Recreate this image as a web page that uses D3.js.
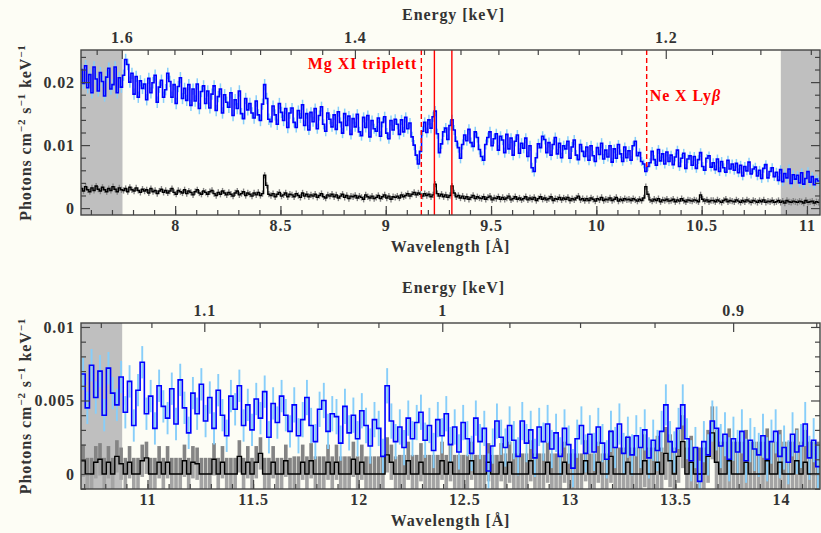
<!DOCTYPE html>
<html>
<head>
<meta charset="utf-8">
<script src="https://cdn.jsdelivr.net/npm/d3@7"></script>
<style>
body { margin: 0; background: #fdfdf5; }
text { font-family: "Liberation Serif", "DejaVu Serif", serif; font-weight: bold; fill: #333; font-size: 16px; letter-spacing: 0.9px; }
</style>
</head>
<body>
<svg id="chart" width="821" height="533"></svg>
<script>
// all fluxes below are in units of 1e-4 photons cm^-2 s^-1 keV^-1
const UNIT = 1e-4;
const HC = 12.39842; // keV * A

// upper panel, 0.01 A bins starting at 7.55 A
const topStart = 7.55;
const topBin = 0.01;
const topBlue = [
    220, 198, 226, 191, 212, 183, 224, 205, 186, 215,
    201, 178, 208, 222, 189, 196, 224, 183, 207, 192,
    211, 236, 228, 200, 214, 181, 209, 176, 202, 190,
    197, 172, 206, 183, 199, 211, 168, 192, 203, 176,
    188, 214, 201, 176, 196, 166, 193, 207, 174, 190,
    171, 196, 163, 189, 170, 197, 158, 185, 194, 166,
    186, 159, 181, 194, 155, 177, 189, 151, 180, 168,
    160, 183, 147, 172, 158, 186, 150, 142, 174, 156,
    166, 151, 143, 170, 148, 139, 165, 196, 174, 141,
    137, 162, 148, 133, 166, 152, 139, 158, 128, 151,
    159, 136, 128, 155, 143, 164, 131, 150, 124, 152,
    137, 158, 126, 147, 161, 133, 122, 151, 141, 129,
    148, 125, 153, 136, 119, 150, 131, 146, 117, 142,
    129, 149, 121, 115, 144, 128, 147, 113, 139, 126,
    122, 143, 114, 136, 145, 119, 110, 139, 124, 141,
    133, 117, 140, 121, 144, 126, 135, 113, 100, 84,
    70, 90, 122, 136, 120, 140, 127, 145, 154, 118,
    88, 102, 121, 127, 109, 131, 140, 124, 106, 96,
    79, 101, 116, 107, 125, 104, 98, 121, 112, 93,
    82, 76, 101, 112, 121, 99, 110, 118, 92, 114,
    108, 88, 117, 94, 111, 84, 106, 116, 87, 103,
    95, 111, 82, 99, 64, 58, 80, 102, 96, 114,
    109, 88, 104, 84, 101, 112, 86, 103, 80, 99,
    94, 106, 79, 97, 108, 84, 77, 101, 90, 82,
    97, 76, 99, 83, 74, 96, 85, 103, 78, 92,
    81, 99, 73, 94, 79, 101, 86, 74, 97, 80,
    91, 76, 99, 106, 83, 88, 74, 70, 58, 66,
    72, 90, 77, 68, 93, 75, 86, 70, 89, 74,
    84, 69, 81, 92, 66, 79, 87, 63, 78, 83,
    68, 82, 63, 77, 88, 66, 60, 79, 83, 65,
    72, 61, 78, 58, 74, 64, 57, 76, 62, 70,
    60, 71, 56, 68, 51, 66, 59, 73, 54, 62,
    65, 51, 60, 47, 63, 69, 48, 58, 64, 50,
    57, 44, 61, 42, 55, 48, 62, 39, 53, 46,
    52, 40, 56, 38, 47, 58, 41, 50, 37, 46,
    43
];
const topBlack = [
    31, 27, 34, 29, 26, 32, 28, 35, 30, 27,
    33, 29, 26, 31, 28, 34, 30, 26, 32, 29,
    28, 31, 26, 33, 29, 27, 32, 28, 25, 30,
    27, 29, 24, 31, 26, 28, 23, 27, 30, 25,
    28, 24, 27, 31, 25, 22, 28, 26, 24, 29,
    23, 27, 25, 21, 26, 29, 24, 22, 27, 25,
    22, 26, 28, 23, 20, 25, 22, 27, 24, 21,
    25, 22, 19, 24, 27, 21, 23, 26, 20, 24,
    22, 19, 24, 21, 25, 20, 23, 52, 36, 22,
    20, 23, 18, 22, 25, 19, 21, 24, 18, 22,
    21, 18, 23, 20, 17, 24, 19, 22, 18, 21,
    19, 22, 17, 20, 23, 18, 16, 21, 19, 22,
    18, 21, 16, 19, 22, 17, 20, 15, 19, 18,
    20, 16, 19, 17, 14, 21, 18, 16, 19, 15,
    17, 20, 15, 18, 21, 16, 19, 14, 18, 17,
    19, 16, 21, 18, 20, 23, 19, 22, 25, 21,
    24, 22, 19, 23, 20, 22, 18, 21, 38, 23,
    19, 22, 18, 21, 17, 20, 35, 24, 18, 20,
    16, 19, 15, 18, 14, 17, 20, 15, 18, 16,
    15, 18, 14, 17, 19, 13, 16, 15, 18, 14,
    17, 14, 16, 19, 13, 15, 18, 14, 16, 13,
    15, 18, 13, 16, 14, 17, 12, 15, 18, 14,
    16, 13, 15, 18, 12, 15, 14, 17, 13, 16,
    14, 17, 12, 15, 13, 16, 19, 13, 15, 12,
    15, 12, 16, 14, 11, 15, 13, 17, 12, 14,
    13, 16, 12, 14, 17, 11, 14, 12, 15, 13,
    14, 12, 15, 13, 11, 14, 12, 16, 34, 22,
    13, 11, 14, 12, 15, 10, 13, 12, 14, 11,
    12, 14, 10, 13, 11, 15, 12, 10, 13, 12,
    11, 13, 12, 10, 21, 14, 11, 13, 10, 12,
    12, 10, 13, 11, 9, 12, 14, 10, 12, 11,
    10, 13, 11, 9, 12, 10, 13, 11, 9, 12,
    11, 9, 12, 10, 13, 9, 11, 10, 12, 9,
    10, 12, 9, 11, 8, 12, 10, 9, 11, 10,
    9, 11, 10, 8, 12, 9, 10, 11, 8, 10,
    9
];
// 1-sigma errors, one value per 0.5 A
const errStep = 0.5;
const topBlueErr = [9, 9, 8, 8, 8, 7, 7, 7];
const topBlackErr = [5, 5, 5, 5, 5, 5, 5, 5];

// lower panel, 0.02 A bins starting at 10.685 A
const botStart = 10.685;
const botBin = 0.02;
const botBlue = [
    68, 45, 74, 52, 70, 40, 72, 55, 47, 66,
    42, 63, 33, 57, 76, 41, 53, 31, 60, 46,
    38, 58, 34, 64, 45, 28, 55, 41, 61, 36,
    52, 31, 57, 40, 26, 53, 44, 60, 33, 47,
    30, 51, 38, 56, 25, 48, 35, 53, 40, 29,
    47, 26, 37, 52, 33, 22, 44, 50, 29, 41,
    39, 21, 46, 28, 40, 24, 43, 33, 19, 37,
    31, 12, 60, 36, 22, 32, 18, 38, 24, 35,
    42, 23, 33, 16, 37, 26, 41, 20, 32, 15,
    35, 24, 14, 38, 22, 31, 2, 19, 36, 25,
    18, 33, 23, 12, 36, 21, 30, 11, 32, 22,
    34, 17, 28, 12, 31, 20, 4, 24, 33, 14,
    27, 15, 32, 21, 10, 29, 18, 34, 14, 25,
    13, 26, 18, 30, 11, 23, 16, 29, 47, 22,
    15, 31, 47, 24, 9, 18, -5, 22, 13, 36,
    31, 19, 27, 10, 24, 15, 29, 9, 23, 17,
    13, 26, 10, 22, 29, 12, 18, 8, 27, 15,
    19, 34, 11, 23, 5
];
const botBlack = [
    9, 0, 0, 8, 10, 0, 8, 0, 12, 7,
    0, 8, 0, 0, 9, 11, 0, 0, 8, 0,
    8, 0, 0, 0, 9, 0, 8, 7, 0, 0,
    0, 10, 0, 8, 0, 0, 0, 12, 0, 8,
    0, 8, 14, 0, 0, 8, 0, 0, 9, 0,
    0, 0, 8, 0, 9, 0, 0, 0, 8, 0,
    8, 0, 0, 0, 10, 0, 8, 0, 0, 0,
    0, 0, 13, 8, 0, 0, 0, 9, 0, 0,
    8, 0, 0, 0, 0, 9, 0, 8, 0, 0,
    0, 0, 9, 0, 0, 0, 8, 0, 0, 8,
    0, 8, 0, 0, 0, 0, 9, 0, 0, 0,
    8, 0, 0, 0, 8, 0, 0, 0, 0, 9,
    0, 0, 8, 0, 0, 12, 0, 0, 0, 8,
    0, 0, 0, 9, 0, 0, 8, 0, 14, 9,
    0, 12, 22, 0, 8, 0, 0, 0, 12, 28,
    8, 0, 0, 9, 0, 0, 0, 8, 0, 0,
    0, 0, 9, 0, 0, 8, 0, 0, 0, 9,
    0, 8, 0, 0, 0
];
const botBlueErr = [11, 11, 12, 12, 13, 14, 15];
const botBlackErr = [11, 11, 12, 13, 14, 18, 22];

// line identifications (A)
const lineWl = [9.169, 9.231, 9.314, 10.239];
const lineDashed = [true, false, false, true];
const lineBottom = [0, 0, 0, 0.0065];   // flux where the marker stops

const svg = d3.select("#chart");
const left = 81, right = 820;

function makeBins(start, step, vals, errs) {
    return vals.map((v, i) => {
        let k = Math.min(errs.length - 1, Math.floor(i * step / errStep + 1e-9));
        return {x0: start + i * step, x1: start + (i + 1) * step, v: v * UNIT, e: errs[k] * UNIT};
    });
}

function drawErrors(g, x, y, bins, color, width, asBars) {
    if (asBars) {
        // lower half lighter, upper half darker, as in the original
        const bars = g.append("g");
        bars.selectAll("rect.lo")
            .data(bins)
            .join("rect")
            .attr("x", d => x(d.x0) + 0.3)
            .attr("width", d => x(d.x1) - x(d.x0) - 0.6)
            .attr("y", d => y(d.v))
            .attr("height", d => y(d.v - d.e) - y(d.v))
            .attr("fill", "#a4a4a4");
        bars.selectAll("rect.hi")
            .data(bins)
            .join("rect")
            .attr("x", d => x(d.x0) + 0.3)
            .attr("width", d => x(d.x1) - x(d.x0) - 0.6)
            .attr("y", d => y(d.v + d.e))
            .attr("height", d => y(d.v) - y(d.v + d.e))
            .attr("fill", color);
        return;
    }
    g.append("g")
        .selectAll("line")
        .data(bins)
        .join("line")
        .attr("x1", d => x((d.x0 + d.x1) / 2))
        .attr("x2", d => x((d.x0 + d.x1) / 2))
        .attr("y1", d => y(d.v - d.e))
        .attr("y2", d => y(d.v + d.e))
        .attr("stroke", color)
        .attr("stroke-width", width);
}

function drawStep(g, x, y, bins, color, width) {
    let pts = bins.map(d => [d.x0, d.v]);
    pts.push([bins[bins.length - 1].x1, bins[bins.length - 1].v]);
    g.append("path")
        .attr("d", d3.line().x(d => x(d[0])).y(d => y(d[1])).curve(d3.curveStepAfter)(pts))
        .attr("fill", "none")
        .attr("stroke", color)
        .attr("stroke-width", width);
}

function panel(opt) {
    const x = d3.scaleLinear().domain(opt.xDomain).range([left, right]);
    const y = d3.scaleLinear().domain(opt.yDomain).range([opt.bottom, opt.top]);
    const h = opt.bottom - opt.top;

    svg.append("clipPath").attr("id", "clip" + opt.id)
        .append("rect").attr("x", left).attr("y", opt.top).attr("width", right - left).attr("height", h);
    const plot = svg.append("g").attr("clip-path", `url(#clip${opt.id})`);

    // ignored ranges
    plot.selectAll("rect.ign")
        .data(opt.ignored)
        .join("rect")
        .attr("x", d => x(d[0]))
        .attr("width", d => x(d[1]) - x(d[0]))
        .attr("y", opt.top)
        .attr("height", h)
        .attr("fill", "#bfbfbf");

    const blackBins = makeBins(opt.start, opt.step, opt.black, opt.blackErr);
    const blueBins = makeBins(opt.start, opt.step, opt.blue, opt.blueErr);
    drawErrors(plot, x, y, blackBins, "#848484", 1.4, opt.blackBars);
    drawErrors(plot, x, y, blueBins, "#87cefa", opt.step > 0.015 ? 1.9 : 1.5, false);
    drawStep(plot, x, y, blackBins, "#000", 1.4);
    drawStep(plot, x, y, blueBins, "#0000ff", 1.6);

    // line markers
    if (opt.lines) {
        plot.selectAll("line.mark")
            .data(lineWl)
            .join("line")
            .attr("x1", d => x(d)).attr("x2", d => x(d))
            .attr("y1", opt.top)
            .attr("y2", (d, i) => lineBottom[i] ? y(lineBottom[i]) : opt.bottom)
            .attr("stroke", "#ff0000")
            .attr("stroke-width", 1.4)
            .attr("stroke-dasharray", (d, i) => lineDashed[i] ? "5,3" : null);
        svg.append("text").attr("x", x(lineWl[0]) - 4).attr("y", 69)
            .attr("text-anchor", "end").style("fill", "#ff0000").text("Mg XI triplett");
        const ne = svg.append("text").attr("x", x(lineWl[3]) + 3).attr("y", 101).style("fill", "#ff0000");
        ne.append("tspan").text("Ne X Ly");
        ne.append("tspan").style("font-style", "italic").text("β");
    }

    // wavelength axis (bottom), ticks pointing inward
    const minor = d3.range(Math.ceil(opt.xDomain[0] * 10), Math.floor(opt.xDomain[1] * 10) + 1).map(d => d / 10);
    const major = minor.filter(d => Math.abs(d * 2 - Math.round(d * 2)) < 1e-6);
    svg.append("g").attr("class", "ax").attr("transform", `translate(0,${opt.bottom})`)
        .call(d3.axisBottom(x).tickValues(minor).tickSize(-5).tickFormat(""));
    svg.append("g").attr("class", "ax").attr("transform", `translate(0,${opt.bottom})`)
        .call(d3.axisBottom(x).tickValues(major).tickSize(-9).tickPadding(5).tickFormat(d3.format("")));

    // flux axes
    svg.append("g").attr("class", "ax").attr("transform", `translate(${left},0)`)
        .call(d3.axisLeft(y).tickValues(opt.yMinor).tickSize(-5).tickFormat(""));
    svg.append("g").attr("class", "ax").attr("transform", `translate(${left},0)`)
        .call(d3.axisLeft(y).tickValues(opt.yMajor).tickSize(-9).tickPadding(6).tickFormat(d3.format("")));
    svg.append("g").attr("class", "ax").attr("transform", `translate(${right},0)`)
        .call(d3.axisRight(y).tickValues(opt.yMinor).tickSize(-5).tickFormat(""));
    svg.append("g").attr("class", "ax").attr("transform", `translate(${right},0)`)
        .call(d3.axisRight(y).tickValues(opt.yMajor).tickSize(-9).tickFormat(""));

    // energy axis on top
    const eTicks = svg.append("g");
    eTicks.selectAll("line")
        .data(opt.eMinor.concat(opt.eMajor))
        .join("line")
        .attr("x1", d => x(HC / d)).attr("x2", d => x(HC / d))
        .attr("y1", opt.top)
        .attr("y2", d => opt.top + (opt.eMajor.includes(d) ? 9 : 5))
        .attr("stroke", "#444").attr("stroke-width", 1.2);
    eTicks.selectAll("text")
        .data(opt.eMajor)
        .join("text")
        .attr("x", d => x(HC / d))
        .attr("y", opt.top - 7)
        .attr("text-anchor", "middle")
        .text(d => d3.format("")(d));

    svg.selectAll(".ax .domain").remove();
    svg.selectAll(".ax line").attr("stroke", "#444").attr("stroke-width", 1.2);

    // frame
    svg.append("rect").attr("x", left).attr("y", opt.top).attr("width", right - left).attr("height", h)
        .attr("fill", "none").attr("stroke", "#444").attr("stroke-width", 1.4);

    // titles
    svg.append("text").attr("x", (left + right) / 2 + 3).attr("y", opt.top - 30)
        .attr("text-anchor", "middle").text("Energy [keV]");
    svg.append("text").attr("x", (left + right) / 2).attr("y", opt.bottom + 37)
        .attr("text-anchor", "middle").text("Wavelength [Å]");
    const yt = svg.append("text")
        .attr("transform", `translate(31,${(opt.top + opt.bottom) / 2}) rotate(-90)`)
        .attr("text-anchor", "middle");
    const parts = [["Photons cm", ""], ["−2", "sup"], [" s", ""], ["−1", "sup"], [" keV", ""], ["−1", "sup"]];
    let up = false;
    parts.forEach(p => {
        const t = yt.append("tspan").text(p[0]);
        if (p[1] === "sup") {
            t.attr("dy", -6).style("font-size", "11px");
            up = true;
        } else if (up) {
            t.attr("dy", 6);
            up = false;
        }
    });
}

panel({
    id: 1, top: 50, bottom: 215,
    xDomain: [7.553, 11.062], yDomain: [-0.0011, 0.0251],
    start: topStart, step: topBin,
    blue: topBlue, black: topBlack, blueErr: topBlueErr, blackErr: topBlackErr,
    blackBars: false,
    ignored: [[7.553, 7.75], [10.876, 11.062]],
    yMajor: [0, 0.01, 0.02],
    yMinor: d3.range(0, 26, 2).map(d => d / 1000).filter(d => ![0, 0.01, 0.02].includes(d)),
    eMajor: [1.6, 1.4, 1.2],
    eMinor: d3.range(1125, 1650, 25).map(d => d / 1000).filter(d => ![1.6, 1.4, 1.2].includes(d)),
    lines: true
});

panel({
    id: 2, top: 323, bottom: 489,
    xDomain: [10.685, 14.185], yDomain: [-0.00102, 0.01027],
    start: botStart, step: botBin,
    blue: botBlue, black: botBlack, blueErr: botBlueErr, blackErr: botBlackErr,
    blackBars: true,
    ignored: [[10.685, 10.88]],
    yMajor: [0, 0.005, 0.01],
    yMinor: d3.range(-1, 11, 1).map(d => d / 1000).filter(d => ![0, 0.005, 0.01].includes(d)),
    eMajor: [1.1, 1, 0.9],
    eMinor: d3.range(875, 1175, 25).map(d => d / 1000).filter(d => ![1.1, 1, 0.9].includes(d)),
    lines: false
});
</script>
</body>
</html>
